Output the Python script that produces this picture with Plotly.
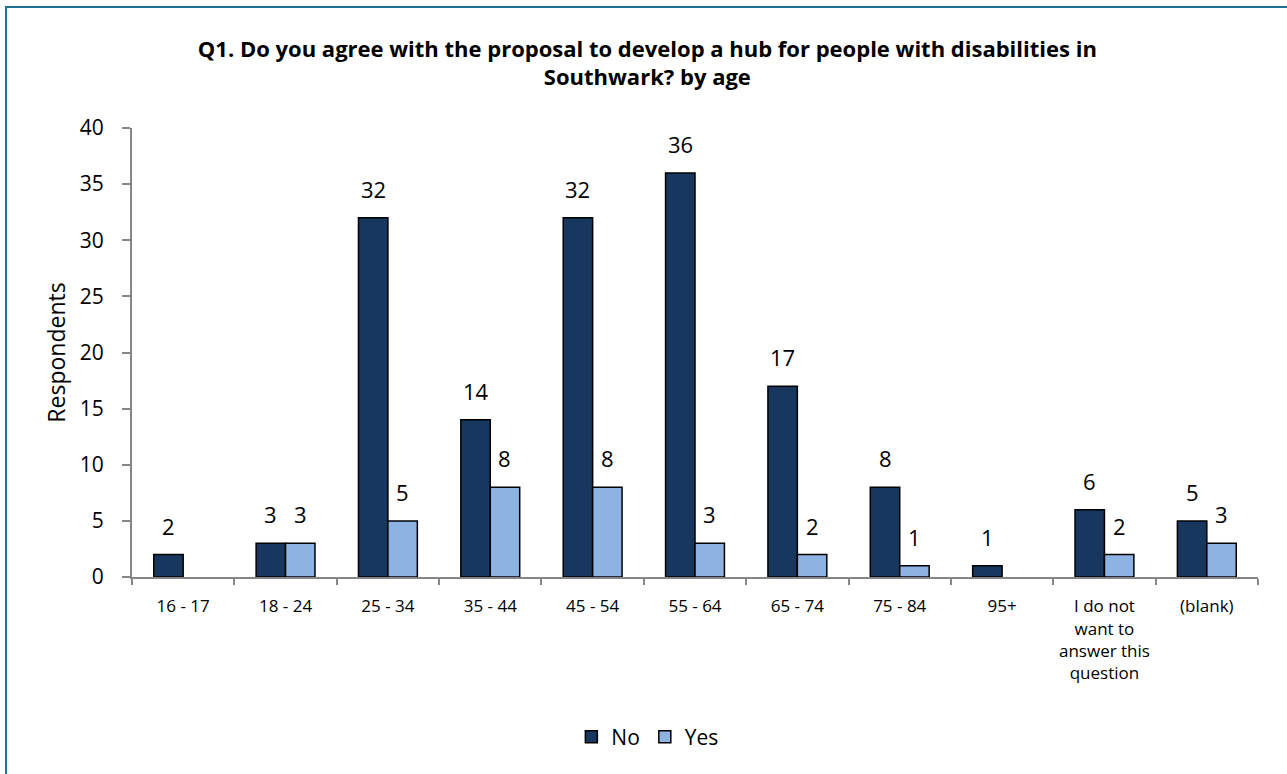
import plotly.graph_objects as go

categories = ["16 - 17", "18 - 24", "25 - 34", "35 - 44", "45 - 54", "55 - 64",
              "65 - 74", "75 - 84", "95+", "I do not<br>want to<br>answer this<br>question", "(blank)"]
no_values = [2, 3, 32, 14, 32, 36, 17, 8, 1, 6, 5]
yes_values = [None, 3, 5, 8, 8, 3, 2, 1, None, 2, 3]
y_ticks = [0, 5, 10, 15, 20, 25, 30, 35, 40]

FONT = "Open Sans, sans-serif"
NO_COLOR = "#17375E"
YES_COLOR = "#8DB3E2"

L, R, T, B = 132, 29, 128, 197
PW, PH = 1287 - L - R, 774 - T - B

fig = go.Figure()
fig.add_trace(go.Bar(name="No", x=categories, y=no_values,
                     marker=dict(color=NO_COLOR, line=dict(color="black", width=1.5))))
fig.add_trace(go.Bar(name="Yes", x=categories, y=yes_values,
                     marker=dict(color=YES_COLOR, line=dict(color="black", width=1.5))))

annotations = []
for cat, v in zip(categories, no_values):
    if v is not None:
        annotations.append(dict(x=cat, y=v, text=str(v), showarrow=False, xref="x", yref="y",
                                yanchor="bottom", xshift=-14.7, yshift=12,
                                font=dict(family=FONT, size=22, color="black")))
for cat, v in zip(categories, yes_values):
    if v is not None:
        annotations.append(dict(x=cat, y=v, text=str(v), showarrow=False, xref="x", yref="y",
                                yanchor="bottom", xshift=14.7, yshift=12,
                                font=dict(family=FONT, size=22, color="black")))

fig.update_layout(
    width=1287, height=774,
    paper_bgcolor="white", plot_bgcolor="white",
    margin=dict(l=L, r=R, t=T, b=B),
    barmode="group", bargap=0.425, bargroupgap=0,
    font=dict(family=FONT, color="black"),
    title=dict(text="<b>Q1. Do you agree with the proposal to develop a hub for people with disabilities in<br>Southwark? by age</b>",
               x=0.503, xref="container", xanchor="center", y=(774 - 56.5) / 774, yanchor="middle",
               font=dict(family=FONT, size=22, color="black")),
    legend=dict(orientation="h", x=0.503, xref="container", xanchor="center", y=(774 - 737) / 774,
                yref="container", yanchor="middle", font=dict(family=FONT, size=21),
                traceorder="normal", itemwidth=30),
    annotations=annotations,
)
fig.add_shape(type="rect", xref="paper", yref="paper",
              x0=(6 - L) / PW, x1=1.1, y0=-0.5, y1=(774 - B - 7) / PH,
              line=dict(color="#1F7195", width=2), fillcolor="rgba(0,0,0,0)", layer="below")

fig.update_xaxes(type="category", showline=True, linecolor="#868686", linewidth=2,
                 ticks="outside", tickson="boundaries", ticklen=6, tickcolor="#868686", tickwidth=2,
                 tickfont=dict(family=FONT, size=17), ticklabelstandoff=13, showgrid=False)
fig.update_yaxes(range=[0, 40], tickvals=y_ticks, showline=True, linecolor="#868686", linewidth=2,
                 ticks="outside", ticklen=8, tickcolor="#868686", tickwidth=2,
                 tickfont=dict(family=FONT, size=21), ticklabelstandoff=14,
                 showgrid=False, zeroline=False,
                 title=dict(text="Respondents", font=dict(family=FONT, size=23), standoff=8))

fig.write_html("out.html", config={"displayModeBar": False},
               post_script="document.body.style.margin='0px';")
